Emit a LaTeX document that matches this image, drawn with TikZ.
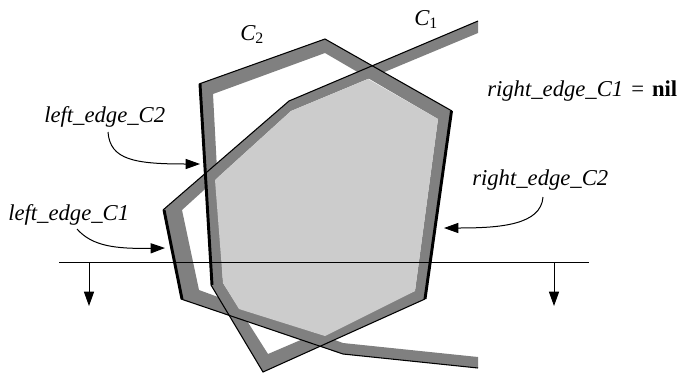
\documentclass[tikz,border=0pt]{standalone}
\usepackage{fontspec}
\setmainfont{Liberation Serif}
\usetikzlibrary{arrows.meta}
\begin{document}
\begin{tikzpicture}[
      x=0.75pt, y=-0.75pt,
      label/.style={anchor=base west, inner sep=0pt, font=\fontsize{17pt}{19pt}\selectfont\itshape},
      band/.style={fill=black!50, draw=none},
      clipped/.style={fill=black!20, draw=none},
      thinedge/.style={draw, line width=0.8pt, line join=miter},
      thickedge/.style={draw, line width=2.2pt},
      line/.style={draw, -{Triangle[length=10.8pt, width=7.6pt]}, line width=0.75pt}
    ]
    \useasboundingbox (0,0) rectangle (680,375);

    % Bands
    \path [band, even odd rule] (199,84) -- (325,39) -- (452,111) -- (425,299) -- (263,372) -- (211,285) -- cycle
      (213,94) -- (325,53) -- (438,119) -- (415,291) -- (268,354) -- (223,283) -- cycle;
    \path [band] (478,21) -- (289,101) -- (163,210) -- (181,299) -- (343,354) -- (478,368)
      -- (478,357) -- (343,343) -- (199,290) -- (182,210) -- (291,111) -- (478,33) -- cycle;
    \path [clipped] (368,79) -- (438,119) -- (415,291) -- (325,336) -- (239,309) -- (223,283) -- (215,180) -- (291,111) -- cycle;

    % Outlines
    \path [thinedge] (199,84) -- (325,39) -- (452,111);
    \path [thinedge] (425,299) -- (263,372) -- (211,285);
    \path [thinedge] (478,21) -- (289,101) -- (163,210);
    \path [thinedge] (181,299) -- (343,354) -- (478,368);
    \path [thickedge] (200,84) -- (212,285);
    \path [thickedge] (451.5,111) -- (425,299);
    \path [thickedge] (164,210) -- (182,299);

    % Sweep line
    \coordinate (sweepL) at (59,262);
    \coordinate (sweepR) at (589,262);
    \coordinate (downL) at (89,262);
    \coordinate (downR) at (554,262);
    \coordinate (tipL) at (89,306);
    \coordinate (tipR) at (554,306);
    \draw [line width=0.75pt] (sweepL) -- (sweepR);
    \path [line] (downL) -- (tipL);
    \path [line] (downR) -- (tipR);

    % Nodes
    \node [label] (c2) at (240,40) {C\textsubscript{\upshape 2}};
    \node [label] (c1) at (414,25) {C\textsubscript{\upshape 1}};
    \node [label] (rightC1) at (487,96) {right\_edge\_C1\hspace{6pt}{\upshape =}\hspace{6pt}{\upshape\bfseries nil}};
    \node [label] (leftC2) at (44,122) {left\_edge\_C2};
    \node [label] (leftC1) at (8,220) {left\_edge\_C1};
    \node [label] (rightC2) at (472,185) {right\_edge\_C2};
    \coordinate (startLC2) at (108,132);
    \coordinate (endLC2) at (200,164);
    \coordinate (startLC1) at (77,229);
    \coordinate (endLC1) at (165,248);
    \coordinate (startRC2) at (543,197);
    \coordinate (endRC2) at (444,228);

    % Paths
    \path [line] (startLC2) .. controls (110,160) and (135,164) .. (endLC2);
    \path [line] (startLC1) .. controls (92,246) and (115,249) .. (endLC1);
    \path [line] (startRC2) .. controls (541,225) and (500,228) .. (endRC2);
  \end{tikzpicture}
\end{document}
